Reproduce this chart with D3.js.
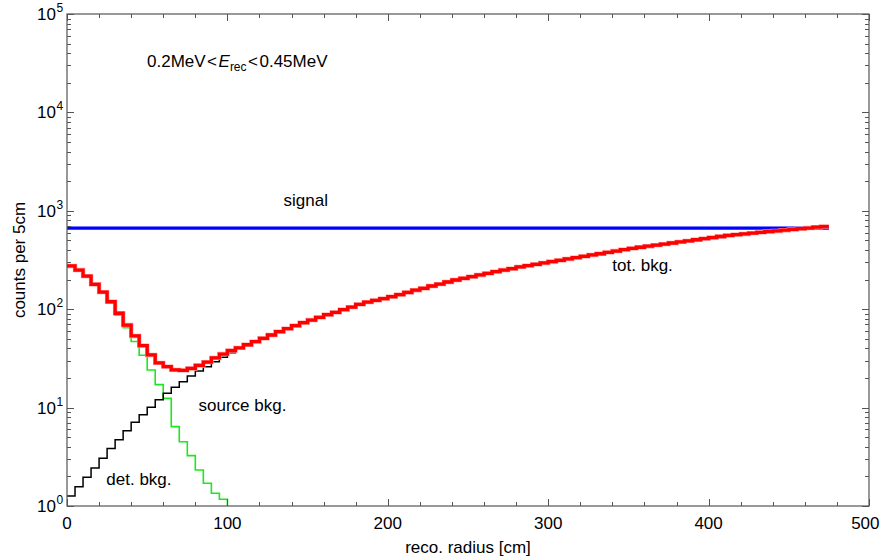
<!DOCTYPE html>
<html>
<head>
<meta charset="utf-8">
<script src="https://cdn.jsdelivr.net/npm/d3@7/dist/d3.min.js"></script>
<style>
  body { margin: 0; background: #fff; }
  svg { display: block; }
  text { font-family: "Liberation Sans", Arial, Helvetica, sans-serif; fill: #000; }
</style>
</head>
<body>
<svg id="chart" width="881" height="557"></svg>
<script>
// ---------------- data (counts per 5 cm bin, bins start at 0 cm) ----------------
const binWidthCm = 5;
const binStart = d3.range(0, 475, binWidthCm); // 95 bins: 0..470

const totalBkg = [
  275, 250, 217, 179, 149, 119, 91, 69, 53.5, 42.6,
  34.3, 28.5, 26.1, 24.2, 23.9, 25.0, 26.8, 29.0, 32.0, 35.0,
  38.0, 40.5, 43.5, 46.8, 50.6, 54.7, 59.1, 63.4, 68, 72.9,
  77.6, 82.6, 87.9, 92.9, 98.9, 105, 112, 118, 123, 128,
  134, 140.5, 148, 156, 163, 172, 180, 189, 198, 206,
  214, 223, 231, 241, 250, 258, 269, 277, 286, 295,
  305, 314, 324, 334, 345, 356, 366, 378, 390, 403,
  415, 426, 437, 448, 459, 471, 483, 495, 508, 521,
  535, 548, 562, 573, 582, 593, 603, 614, 624, 635,
  646, 658, 668, 681, 692
];

const detBkg = [
  274, 248, 215, 176, 146, 115, 87, 65, 47, 34,
  24.1, 17.1, 12.4, 6.4, 4.5, 3.25, 2.32, 1.70, 1.35, 1.17,
  0.5
];

const sourceBkg = [
  1.26, 1.57, 1.96, 2.43, 3.05, 3.83, 4.72, 5.83, 7.08, 8.47,
  10.1, 12.0, 14.0, 16.1, 18.3, 20.9, 23.5, 26.0, 29.3, 32.5,
  36.1, 39.5, 43.0, 46.5
];

const signalRadius = [0, 475];
const signalCounts = [668, 668];

const xTickValues = [0, 100, 200, 300, 400, 500];
const yTickExponents = [0, 1, 2, 3, 4, 5];

const labels = [
  { text: "signal", r: 135, v: 1130 },
  { text: "tot. bkg.", r: 340, v: 245 },
  { text: "source bkg.", r: 82, v: 9.3 },
  { text: "det. bkg.", r: 24.5, v: 1.63 }
];

// ---------------- layout ----------------
const svg = d3.select("#chart");
const X0 = 67, X1 = 869, Y0 = 506, Y1 = 14;
const FS = 17;
const W = 881;

const x = d3.scaleLinear().domain([0, 500]).range([X0, X1]);
const y = d3.scaleLog().domain([1, 1e5]).range([Y0, Y1]);

const axisColor = "#555";

svg.append("defs").append("clipPath").attr("id", "plotclip")
  .append("rect").attr("x", X0).attr("y", Y1).attr("width", X1 - X0).attr("height", Y0 - Y1);

function stepPoints(vals) {
  const pts = vals.map((v, i) => [binStart[i], v]);
  pts.push([binStart[vals.length - 1] + binWidthCm, vals[vals.length - 1]]);
  return pts;
}
const stepLine = d3.line()
  .x(d => x(d[0]))
  .y(d => y(Math.max(d[1], 0.05)))
  .curve(d3.curveStepAfter);

const plot = svg.append("g").attr("clip-path", "url(#plotclip)");

// det. bkg (green)
plot.append("path").datum(stepPoints(detBkg))
  .attr("d", stepLine).attr("fill", "none")
  .attr("stroke", "#1ee61e").attr("stroke-width", 1.6);

// source bkg (black)
plot.append("path").datum(stepPoints(sourceBkg))
  .attr("d", stepLine).attr("fill", "none")
  .attr("stroke", "#000").attr("stroke-width", 1.5);

// signal (blue)
const sigLine = d3.line().x((d, i) => x(signalRadius[i])).y(d => y(d));
plot.append("path").datum(signalCounts)
  .attr("d", sigLine).attr("fill", "none")
  .attr("stroke", "#8080ff").attr("stroke-width", 3.8);
plot.append("path").datum(signalCounts)
  .attr("d", sigLine).attr("fill", "none")
  .attr("stroke", "#0000ff").attr("stroke-width", 2.8);

// total bkg (red)
plot.append("path").datum(stepPoints(totalBkg))
  .attr("d", stepLine).attr("fill", "none")
  .attr("stroke", "#ff9a9a").attr("stroke-width", 4.4).attr("stroke-linejoin", "miter");
plot.append("path").datum(stepPoints(totalBkg))
  .attr("d", stepLine).attr("fill", "none")
  .attr("stroke", "#ff0000").attr("stroke-width", 3.3).attr("stroke-linejoin", "miter");

// ---------------- frame and ticks ----------------
const frame = svg.append("g").attr("stroke", axisColor).attr("fill", "none");
frame.append("rect").attr("x", X0).attr("y", Y1).attr("width", X1 - X0).attr("height", Y0 - Y1)
  .attr("stroke-width", 1.2);

const xMinor = d3.range(0, 501, 20);
xMinor.forEach(v => {
  const major = v % 100 === 0;
  const len = major ? 7 : 4;
  const px = Math.round(x(v)) + 0.5;
  frame.append("line").attr("x1", px).attr("x2", px).attr("y1", Y0).attr("y2", Y0 - len).attr("stroke-width", 1);
  frame.append("line").attr("x1", px).attr("x2", px).attr("y1", Y1).attr("y2", Y1 + len).attr("stroke-width", 1);
});

yTickExponents.forEach(e => {
  const base = Math.pow(10, e);
  const mult = e < 5 ? [1, 2, 3, 4, 5, 6, 7, 8, 9] : [1];
  mult.forEach(m => {
    const v = base * m;
    const major = m === 1;
    const len = major ? 7 : 4;
    const py = Math.round(y(v)) + 0.5;
    frame.append("line").attr("x1", X0).attr("x2", X0 + len).attr("y1", py).attr("y2", py).attr("stroke-width", 1);
    frame.append("line").attr("x1", X1).attr("x2", X1 - len).attr("y1", py).attr("y2", py).attr("stroke-width", 1);
  });
});

// x tick labels (keep the last one inside the page)
const xLab = svg.append("g").selectAll("text").data(xTickValues).join("text")
  .attr("y", 529)
  .attr("text-anchor", "middle").attr("font-size", FS)
  .text(d => d);
xLab.each(function (d) {
  const w = this.getComputedTextLength();
  const cx = Math.min(x(d), W - 1.5 - w / 2);
  d3.select(this).attr("x", cx);
});

// y tick labels 10^n
const yl = svg.append("g");
yTickExponents.forEach(e => {
  yl.append("text").attr("x", 56).attr("y", y(Math.pow(10, e)) + 6)
    .attr("text-anchor", "end").attr("font-size", FS).text("10");
  yl.append("text").attr("x", 56.5).attr("y", y(Math.pow(10, e)) - 2)
    .attr("font-size", 12).text(e);
});

// axis titles
svg.append("text").attr("x", (X0 + X1) / 2).attr("y", 553)
  .attr("text-anchor", "middle").attr("font-size", FS).text("reco. radius [cm]");
svg.append("text").attr("transform", "translate(25," + ((Y0 + Y1) / 2) + ") rotate(-90)")
  .attr("text-anchor", "middle").attr("font-size", FS).text("counts per 5cm");

// energy window annotation
const ann = svg.append("text").attr("x", 147).attr("y", 67).attr("font-size", FS);
ann.append("tspan").text("0.2MeV");
ann.append("tspan").attr("dx", 1.5).text("<");
ann.append("tspan").attr("dx", 1.5).attr("font-style", "italic").text("E");
ann.append("tspan").attr("font-size", 12).attr("dy", 4).text("rec");
ann.append("tspan").attr("dy", -4).attr("dx", 1.5).text("<");
ann.append("tspan").attr("dx", 1.5).text("0.45MeV");

// curve labels
svg.append("g").selectAll("text").data(labels).join("text")
  .attr("x", d => x(d.r)).attr("y", d => y(d.v))
  .attr("font-size", FS).text(d => d.text);
</script>
</body>
</html>
